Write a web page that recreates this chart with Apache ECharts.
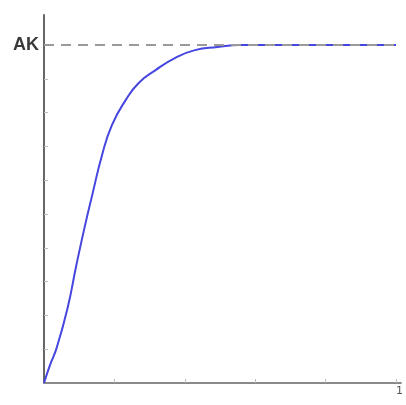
<!DOCTYPE html>
<html>
<head>
<meta charset="utf-8">
<script src="https://cdn.jsdelivr.net/npm/echarts@6/dist/echarts.min.js"></script>
<style>html,body{margin:0;padding:0;background:#fff}#c{width:406px;height:405px}</style>
</head>
<body>
<div id="c"></div>
<script>
// Curve: x as fraction of the axis, y as fraction of AK
const curveX = [0, 0.017, 0.036, 0.067, 0.092, 0.115, 0.137, 0.165, 0.193, 0.232, 0.269, 0.317, 0.373, 0.429, 0.493, 0.557, 0.65, 0.75, 0.85, 1.0];
const curveY = [0, 0.053, 0.104, 0.222, 0.349, 0.459, 0.556, 0.675, 0.763, 0.837, 0.888, 0.926, 0.962, 0.985, 0.994, 1.0, 1.0, 1.0, 1.0, 1.0];
const akLevel = 1;
const akLabel = 'AK';
const xTicks = [0.2, 0.4, 0.6, 0.8, 1.0];
const yTicks = [0.1, 0.2, 0.3, 0.4, 0.5, 0.6, 0.7, 0.8, 0.9];
const xEndLabel = '1';

const chart = echarts.init(document.getElementById('c'));
chart.setOption({
  animation: false,
  grid: {left: 44, right: 0, top: 15, bottom: 22, containLabel: false},
  xAxis: {
    type: 'value', min: 0, max: 1.014,
    splitLine: {show: false},
    axisLine: {lineStyle: {color: '#8a8a8a', width: 2}},
    axisTick: {show: true, inside: true, length: 4, customValues: xTicks, lineStyle: {color: '#bbb'}},
    axisLabel: {customValues: [1.01], formatter: () => xEndLabel, color: '#555', fontSize: 11, margin: 3, fontFamily: 'DejaVu Sans'}
  },
  yAxis: {
    type: 'value', min: 0, max: 1.089,
    splitLine: {show: false},
    axisLine: {lineStyle: {color: '#666', width: 2}},
    axisTick: {show: true, inside: true, length: 4, customValues: yTicks, lineStyle: {color: '#bbb'}},
    axisLabel: {customValues: [akLevel], formatter: () => akLabel, color: '#3a3a3a', fontSize: 18, fontWeight: 'bold', margin: 5, fontFamily: 'Liberation Sans'}
  },
  series: [
    {
      type: 'line', data: curveX.map((x, i) => [x, curveY[i]]), symbol: 'none', smooth: 0.5,
      lineStyle: {color: '#4646e0', width: 2}, z: 2
    },
    {
      type: 'line', data: [[0, akLevel], [1.014, akLevel]], symbol: 'none', silent: true,
      lineStyle: {color: '#9a9a9a', width: 2, type: [10, 7]}, z: 3
    }
  ]
});
</script>
</body>
</html>
